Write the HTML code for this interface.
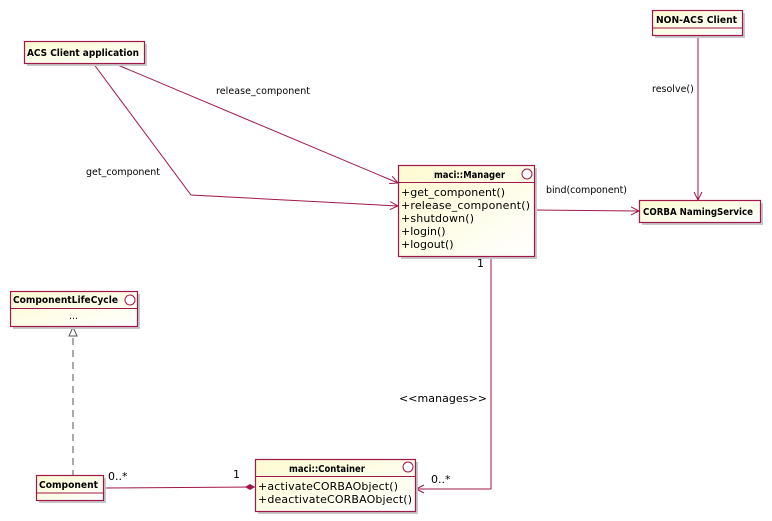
<!DOCTYPE html>
<html><head><meta charset="utf-8"><style>
html,body{margin:0;padding:0;background:#fff;}
svg{display:block;font-family:"DejaVu Sans","Liberation Sans",sans-serif;}
.b{fill:url(#g);stroke:#a0174a;stroke-width:1.2;}
.s{fill:#c8c8c8;}
.t{font-size:9.5px;font-weight:bold;fill:#000;}
.m{font-size:11px;fill:#000;}
.l{font-size:9.5px;fill:#000;}
.ln{stroke:#a0174a;stroke-width:1;fill:none;}
</style></head><body>
<svg width="772" height="521" viewBox="0 0 772 521">
<defs>
<linearGradient id="g" x1="0" y1="0" x2="1" y2="1"><stop offset="0" stop-color="#fdfbd0"/><stop offset="1" stop-color="#ffffff"/></linearGradient>
<marker id="a" markerWidth="10" markerHeight="10" refX="9" refY="5" orient="auto" markerUnits="userSpaceOnUse"><path d="M1,1 L9,5 L1,9" fill="none" stroke="#a0174a" stroke-width="1"/></marker>
</defs>

<path class="ln" d="M113,63 L398,183" marker-end="url(#a)"/>
<path class="ln" d="M93,63 L191,195 L398,206" marker-end="url(#a)"/>
<path class="ln" d="M698,35 L698,200" marker-end="url(#a)"/>
<path class="ln" d="M534,210 L639,211" marker-end="url(#a)"/>
<path class="ln" d="M491,256 L491,489 L416,489" marker-end="url(#a)"/>
<path class="ln" d="M103,488 L255,487"/>
<path d="M255,487 L250,484 L245,487 L250,490 Z" fill="#a0174a"/>
<path d="M73,338 L73,475" stroke="#555" stroke-dasharray="7,5" fill="none"/>
<path d="M69,336 L73,327 L77,336 Z" fill="#fff" stroke="#555"/>

<text class="l" x="216" y="94" textLength="94">release_component</text>
<text class="l" x="86" y="175" textLength="74">get_component</text>
<text class="l" x="652" y="92">resolve()</text>
<text class="l" x="546" y="193" textLength="81">bind(component)</text>
<text class="m" x="477" y="267">1</text>
<text class="m" x="399" y="402" textLength="88">&lt;&lt;manages&gt;&gt;</text>
<text class="m" x="431" y="483">0..*</text>
<text class="m" x="108" y="480">0..*</text>
<text class="m" x="233" y="478">1</text>

<rect class="s" x="27" y="44" width="120" height="22"/>
<rect class="b" x="24.5" y="41.5" width="120" height="22"/>
<text class="t" x="27" y="56" textLength="112" lengthAdjust="spacingAndGlyphs">ACS Client application</text>

<rect class="s" x="655" y="13" width="90" height="25"/>
<rect class="b" x="652.5" y="10.5" width="90" height="25"/>
<line class="ln" x1="652.5" y1="28" x2="742.5" y2="28"/>
<text class="t" x="656" y="23" textLength="81" lengthAdjust="spacingAndGlyphs">NON-ACS Client</text>

<rect class="s" x="401" y="168" width="136" height="91"/>
<rect class="b" x="398.5" y="165.5" width="136" height="91"/>
<line class="ln" x1="398.5" y1="182.5" x2="534.5" y2="182.5"/>
<text class="t" x="434" y="178" textLength="71" lengthAdjust="spacingAndGlyphs">maci::Manager</text>
<circle cx="527" cy="174" r="5" fill="#fff" stroke="#a0174a"/>
<text class="m" x="401" y="196" textLength="104">+get_component()</text>
<text class="m" x="401" y="209" textLength="129">+release_component()</text>
<text class="m" x="401" y="222" textLength="73">+shutdown()</text>
<text class="m" x="401" y="235">+login()</text>
<text class="m" x="401" y="248">+logout()</text>

<rect class="s" x="642" y="203" width="121" height="22"/>
<rect class="b" x="639.5" y="200.5" width="121" height="22"/>
<text class="t" x="643" y="215" textLength="110" lengthAdjust="spacingAndGlyphs">CORBA NamingService</text>

<rect class="s" x="13" y="294" width="127" height="35"/>
<rect class="b" x="10.5" y="291.5" width="127" height="35"/>
<line class="ln" x1="10.5" y1="308.5" x2="137.5" y2="308.5"/>
<text class="t" x="13" y="303" textLength="105" lengthAdjust="spacingAndGlyphs">ComponentLifeCycle</text>
<circle cx="130" cy="300" r="5" fill="#fff" stroke="#a0174a"/>
<text class="l" x="69" y="319">...</text>

<rect class="s" x="39" y="478" width="67" height="25"/>
<rect class="b" x="36.5" y="475.5" width="67" height="25"/>
<line class="ln" x1="36.5" y1="493" x2="103.5" y2="493"/>
<text class="t" x="39" y="488" textLength="59" lengthAdjust="spacingAndGlyphs">Component</text>

<rect class="s" x="258" y="462" width="160" height="52"/>
<rect class="b" x="255.5" y="459.5" width="160" height="52"/>
<line class="ln" x1="255.5" y1="476.5" x2="415.5" y2="476.5"/>
<text class="t" x="289" y="472" textLength="76" lengthAdjust="spacingAndGlyphs">maci::Container</text>
<circle cx="408" cy="467" r="5" fill="#fff" stroke="#a0174a"/>
<text class="m" x="258" y="490" textLength="140">+activateCORBAObject()</text>
<text class="m" x="258" y="503" textLength="154">+deactivateCORBAObject()</text>
</svg>
</body></html>
